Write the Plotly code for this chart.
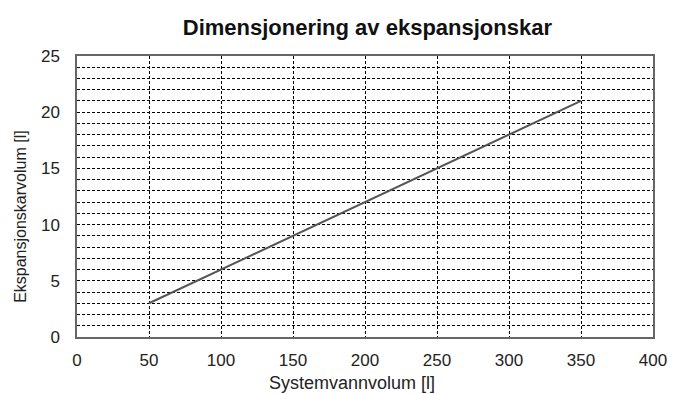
import plotly.graph_objects as go

system_volume = [50, 100, 150, 200, 250, 300, 350]
expansion_volume = [3, 6, 9, 12, 15, 18, 21]

x_ticks = [0, 50, 100, 150, 200, 250, 300, 350, 400]
y_ticks = [0, 5, 10, 15, 20, 25]

x_title = "Systemvannvolum [l]"
y_title = "Ekspansjonskarvolum [l]"
chart_title = "Dimensjonering av ekspansjonskar"

font_family = "Liberation Sans, Arial, sans-serif"

# The page body adds an 8px offset, so the figure is sized to fit the window.
fig = go.Figure()
fig.add_trace(go.Scatter(
    x=system_volume, y=expansion_volume, mode="lines",
    line=dict(color="#555555", width=2), showlegend=False,
))

fig.update_layout(
    width=668, height=386,
    margin=dict(l=69, r=23, t=48, b=57, autoexpand=False),
    paper_bgcolor="white", plot_bgcolor="white",
    font=dict(family=font_family, size=16, color="#222222"),
    title=dict(text="<b>" + chart_title + "</b>",
               x=0.538, xanchor="center", y=0.951, yanchor="middle",
               font=dict(size=22, color="#111111")),
)

fig.add_annotation(text=x_title, xref="paper", yref="paper", x=0.478, y=-0.164,
                   xanchor="center", yanchor="middle", showarrow=False,
                   font=dict(size=18, color="#222222"))
fig.add_annotation(text=y_title, xref="paper", yref="paper", x=-0.097, y=0.428,
                   xanchor="center", yanchor="middle", showarrow=False, textangle=-90,
                   font=dict(size=16, color="#222222"))

fig.update_xaxes(
    range=[0, 400], tickvals=x_ticks, ticks="", ticklabelstandoff=7,
    showgrid=True, gridcolor="#000000", gridwidth=1, griddash="3px,2px",
    showline=True, linecolor="#666666", linewidth=1.5, mirror=True,
    zeroline=False, automargin=False,
    tickfont=dict(size=17),
)
fig.update_yaxes(
    range=[0, 25], tickvals=y_ticks, ticks="", ticklabelstandoff=12,
    showgrid=True, gridcolor="#000000", gridwidth=1, griddash="3px,2px",
    minor=dict(dtick=1, showgrid=True, gridcolor="#000000", gridwidth=1, griddash="3px,2px"),
    showline=True, linecolor="#666666", linewidth=1.5, mirror=True,
    zeroline=False, automargin=False,
    tickfont=dict(size=17),
)

fig.write_html("out.html")
